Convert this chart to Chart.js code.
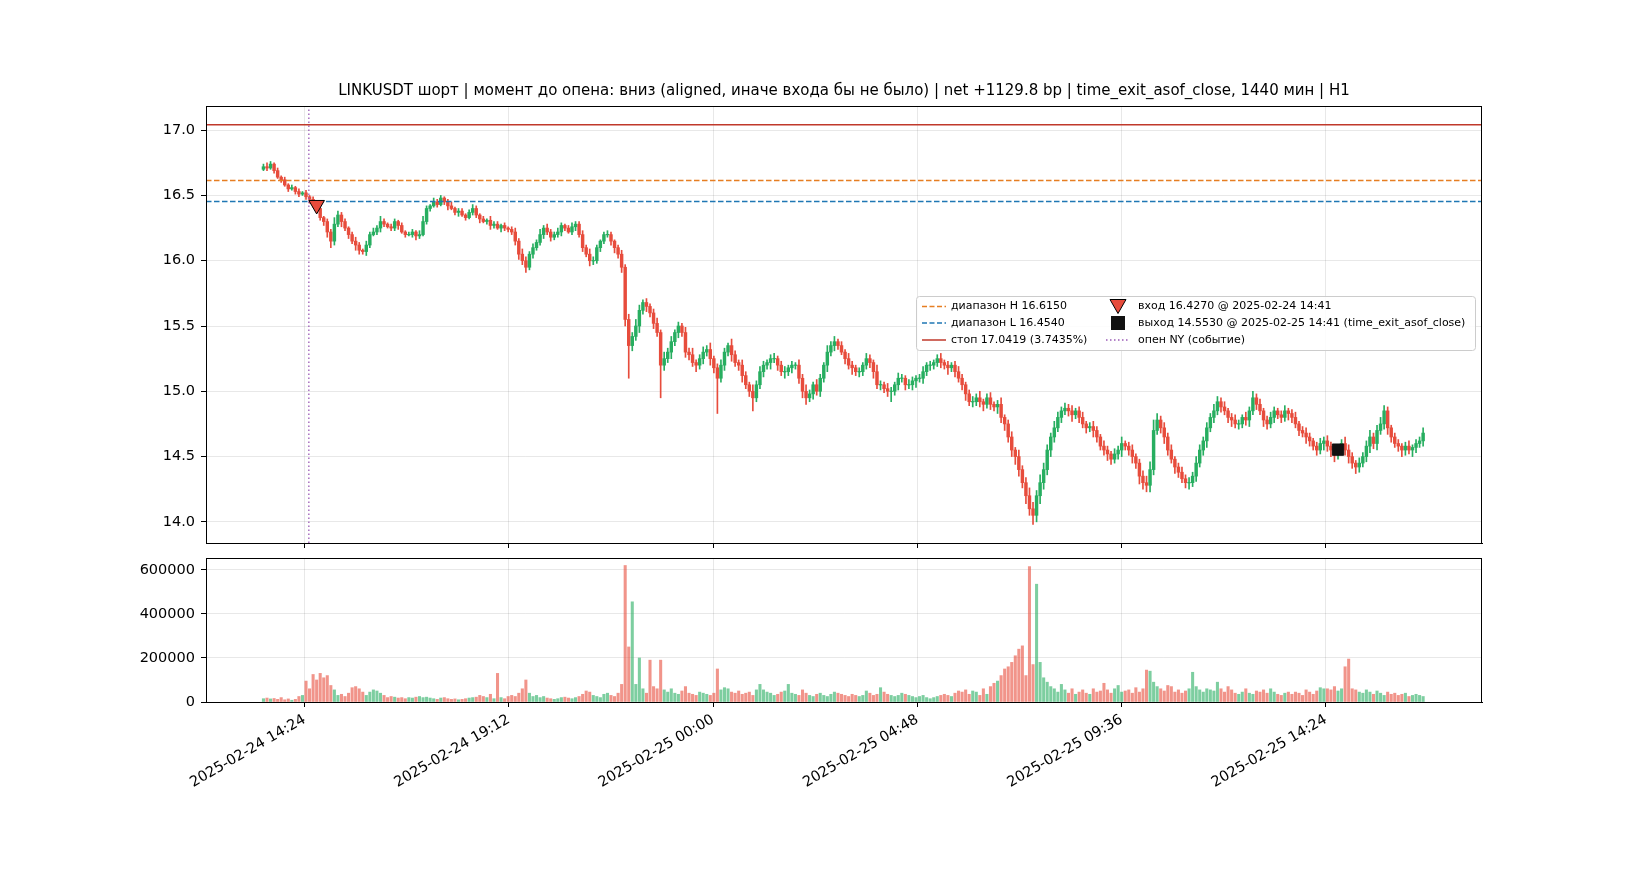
<!DOCTYPE html>
<html><head><meta charset="utf-8">
<script src="https://cdn.jsdelivr.net/npm/chart.js@4.4.1/dist/chart.umd.min.js"></script>
<style>html,body{margin:0;padding:0;background:#fff;overflow:hidden}
#wrap{position:relative;width:1650px;height:880px}
canvas{position:absolute;left:0;top:0}</style></head>
<body><div id="wrap"><canvas id="c1" width="1650" height="880"></canvas><canvas id="c2" width="1650" height="880"></canvas></div>
<script>
// time in minutes since 2025-02-24 00:00, 5-minute candles
const firstTime = 806, stepMin = 5, firstOpen = 16.70;
const closes = [
16.72,16.71,16.74,16.69,16.64,16.62,16.58,16.55,16.56,16.53,
16.51,16.52,16.49,16.47,16.43,16.40,16.33,16.30,16.22,16.15,
16.28,16.35,16.30,16.25,16.20,16.15,16.12,16.08,16.07,16.12,
16.20,16.22,16.25,16.30,16.28,16.26,16.25,16.30,16.27,16.22,
16.20,16.20,16.22,16.19,16.20,16.30,16.40,16.42,16.45,16.43,
16.48,16.45,16.42,16.40,16.37,16.38,16.35,16.33,16.37,16.40,
16.35,16.32,16.30,16.31,16.27,16.28,16.25,16.27,16.25,16.24,
16.22,16.15,16.05,16.00,15.95,16.05,16.10,16.14,16.20,16.25,
16.22,16.18,16.20,16.22,16.27,16.25,16.22,16.26,16.28,16.20,
16.10,16.05,16.00,16.00,16.10,16.15,16.20,16.20,16.15,16.10,
16.05,15.95,15.55,15.35,15.42,15.50,15.62,15.68,15.65,15.60,
15.52,15.45,15.20,15.25,15.30,15.38,15.45,15.50,15.45,15.30,
15.28,15.22,15.20,15.25,15.30,15.32,15.25,15.18,15.10,15.20,
15.30,15.35,15.28,15.22,15.20,15.12,15.05,15.00,14.95,15.05,
15.15,15.20,15.22,15.25,15.25,15.20,15.15,15.15,15.18,15.20,
15.20,15.10,15.00,14.95,14.98,15.05,15.00,15.10,15.20,15.30,
15.35,15.38,15.35,15.30,15.25,15.20,15.18,15.15,15.15,15.20,
15.25,15.22,15.15,15.05,15.05,15.02,15.00,15.00,15.05,15.10,
15.10,15.05,15.05,15.08,15.10,15.10,15.15,15.20,15.20,15.22,
15.25,15.22,15.20,15.18,15.20,15.15,15.10,15.05,14.98,14.92,
14.92,14.95,14.92,14.90,14.95,14.90,14.88,14.90,14.80,14.75,
14.65,14.55,14.50,14.40,14.30,14.20,14.10,14.05,14.20,14.30,
14.40,14.55,14.65,14.72,14.80,14.85,14.87,14.85,14.82,14.85,
14.80,14.75,14.72,14.73,14.70,14.65,14.58,14.55,14.52,14.48,
14.52,14.55,14.60,14.58,14.55,14.50,14.45,14.35,14.30,14.28,
14.40,14.70,14.78,14.72,14.65,14.55,14.48,14.42,14.38,14.33,
14.30,14.30,14.35,14.45,14.55,14.62,14.72,14.80,14.85,14.92,
14.88,14.85,14.80,14.78,14.75,14.75,14.80,14.78,14.85,14.95,
14.90,14.85,14.78,14.75,14.80,14.85,14.82,14.80,14.85,14.83,
14.80,14.75,14.70,14.68,14.65,14.62,14.58,14.55,14.60,14.62,
14.58,14.55,14.52,14.55,14.60,14.55,14.50,14.45,14.42,14.45,
14.50,14.58,14.65,14.60,14.70,14.75,14.85,14.72,14.65,14.60,
14.58,14.55,14.58,14.55,14.57,14.60,14.62,14.68];
// upper / lower wick beyond body, in hundredths
const wickUp = [
2,3,2,1,2,1,2,1,2,1, 2,1,2,1,2,3,2,1,2,2, 5,3,2,2,1,2,3,2,1,3, 2,3,2,4,2,1,2,2,1,2,
1,2,2,1,3,4,2,1,3,2, 2,1,2,3,1,2,2,1,2,3, 2,1,2,1,3,2,2,1,2,1, 2,3,2,4,3,2,3,2,4,2,
3,2,2,3,2,1,2,3,2,2, 3,2,4,3,2,1,2,3,2,1, 2,3,2,4,3,5,4,2,3,2, 3,4,2,5,3,4,2,3,2,4,
3,5,2,3,4,3,5,2,3,4, 3,2,5,3,2,4,3,2,5,3, 4,3,2,3,4,2,3,4,2,3, 2,4,3,5,3,2,4,3,2,5,
3,4,2,3,2,4,3,2,3,2, 4,3,2,5,3,2,4,3,2,4, 3,2,4,3,2,3,4,2,3,2, 3,4,2,3,2,3,4,3,2,3,
4,3,5,2,3,4,2,3,5,2, 3,4,2,5,3,4,6,5,4,6, 5,4,3,5,4,3,4,3,4,2, 3,4,2,3,4,3,2,4,3,2,
4,3,5,2,3,4,2,3,4,5, 6,8,5,3,4,3,4,2,3,4, 3,4,3,5,4,3,4,3,5,4, 3,4,2,3,4,3,2,4,3,5,
3,4,2,3,4,3,2,3,4,2, 3,4,2,3,4,3,2,3,4,3, 4,3,2,4,3,5,4,3,2,4, 3,4,5,3,4,5,4,3,2,3,
3,2,3,4,2,3,3,4];
const wickDn = [
1,2,1,2,1,2,1,2,1,2, 2,1,2,3,2,1,2,3,4,5, 3,2,4,2,3,2,4,3,2,3, 2,1,2,3,2,1,2,2,3,1,
2,1,2,3,2,1,2,2,1,2, 1,2,3,1,2,3,1,2,1,2, 2,3,1,2,3,2,1,3,2,2, 2,3,4,3,4,2,3,2,2,3,
2,3,2,2,3,2,1,2,3,2, 3,2,4,3,2,3,2,2,3,4, 3,4,5,25,4,3,5,3,4,3, 4,3,25,4,3,5,3,4,3,4,
4,3,5,3,4,3,5,4,27,3, 4,3,5,3,4,5,3,4,10,3, 3,4,3,5,3,4,3,5,3,4, 3,4,5,5,3,4,3,4,3,5,
3,4,3,2,4,3,5,3,4,3, 3,4,5,3,4,3,4,8,3,4, 3,4,3,4,5,3,4,3,4,3, 3,4,3,5,3,4,3,4,5,3,
4,3,4,5,3,4,3,5,4,5, 4,5,6,5,4,6,5,7,5,6, 5,4,5,4,3,4,3,4,5,3, 4,3,4,3,5,4,3,4,5,4,
3,4,5,3,4,5,4,6,5,5, 5,4,3,4,5,4,3,5,4,3, 4,5,3,4,3,4,5,3,4,3, 4,3,4,5,3,4,3,4,5,3,
4,3,5,4,3,4,3,4,3,5, 4,3,4,3,5,4,3,4,3,5, 4,5,6,4,3,4,5,4,5,4, 3,4,5,4,5,3,4,5,4,3,
4,5,4,3,5,4,3,4];
// volume, thousands
const volumeK = [
15,18,14,16,12,20,10,14,8,12, 25,30,95,60,125,100,130,110,120,75, 55,30,35,25,40,65,70,60,45,30,
45,55,50,40,30,20,25,22,18,20, 15,20,18,22,25,20,22,18,15,12, 18,20,15,12,14,10,12,15,18,20,
22,30,25,20,35,15,130,20,15,25, 30,25,40,60,100,40,25,30,20,25, 18,15,12,15,20,22,18,15,20,25,
35,50,45,30,25,20,35,40,30,25, 40,80,620,250,455,80,200,60,40,190, 70,60,190,55,45,60,40,35,50,70,
40,35,30,45,40,35,30,40,150,55, 65,60,45,40,50,35,40,45,30,55, 80,55,45,40,30,35,45,50,80,40,
35,30,55,40,30,25,35,40,30,25, 35,45,40,35,30,25,35,30,25,30, 50,40,30,35,65,45,35,30,25,30,
40,35,30,25,20,25,30,20,15,20, 25,30,35,30,25,40,50,45,55,35, 50,45,30,60,35,70,85,95,120,150,
160,180,210,240,255,120,615,170,535,180, 110,90,70,60,45,80,55,40,60,35, 45,55,40,35,60,45,50,85,55,40,
60,75,45,50,55,40,65,45,60,145, 140,90,70,60,50,75,70,45,55,40, 50,60,135,70,55,45,60,55,50,90,
60,45,70,55,40,35,45,60,40,35, 50,45,55,40,60,45,35,30,40,45, 35,45,40,30,55,45,35,50,65,60,
60,55,70,50,60,160,195,60,55,45, 40,55,45,35,50,40,30,45,35,40, 30,35,40,25,30,35,30,25];

const rangeH = 16.615, rangeL = 16.454, stopPx = 17.0419;
const nyOpenT = 870, entryT = 881, entryPx = 16.427, exitT = 2321, exitPx = 14.553;
const xMin = 725, xMax = 2524, xTickStart = 864, xTickStep = 288;
const priceMin = 13.838, priceMax = 17.185, volMax = 654000;
const priceTicks = [14, 14.5, 15, 15.5, 16, 16.5, 17];
const volTicks = [0, 200000, 400000, 600000];
const titleText = 'LINKUSDT шорт | момент до опена: вниз (aligned, иначе входа бы не было) | net +1129.8 bp | time_exit_asof_close, 1440 мин | H1';

const GREEN = '#27ae60', RED = '#e74c3c';
const bodies = [], wicks = [], cols = [], vols = [], vcols = [];
let prev = firstOpen;
closes.forEach((c, i) => {
  const o = prev, t = firstTime + i * stepMin;
  const top = Math.max(o, c), bot = Math.min(o, c);
  bodies.push({x: t, y: top - bot < 0.004 ? [bot - 0.002, top + 0.002] : [bot, top]});
  wicks.push({x: t, y: [bot - wickDn[i] / 100, top + wickUp[i] / 100]});
  const up = c >= o;
  cols.push(up ? GREEN : RED);
  vcols.push(up ? 'rgba(39,174,96,0.6)' : 'rgba(231,76,60,0.6)');
  vols.push({x: t, y: volumeK[i] * 1000});
  prev = c;
});

function fmtTime(m) {
  const d = 24 + Math.floor(m / 1440), r = m % 1440;
  const hh = String(Math.floor(r / 60)).padStart(2, '0'), mm = String(r % 60).padStart(2, '0');
  return '2025-02-' + d + ' ' + hh + ':' + mm;
}
const FONT = 'DejaVu Sans';
Chart.defaults.font.family = FONT;
Chart.defaults.color = '#000';
const xTicks = [];
for (let t = xTickStart; t <= xMax; t += xTickStep) xTicks.push(t);

function xScale(showLabels, height) {
  return {
    type: 'linear', min: xMin, max: xMax, offset: false,
    afterBuildTicks: s => { s.ticks = xTicks.map(v => ({value: v})); },
    afterFit: s => { s.height = height; },
    grid: {offset: false, color: 'rgba(0,0,0,0.09)', tickColor: '#000', tickLength: 5, drawTicks: true},
    border: {color: '#000'},
    ticks: {display: showLabels, font: {size: 14.5}, minRotation: 30, maxRotation: 30, padding: 4,
      callback: v => fmtTime(v)}
  };
}
const frame = {
  id: 'frame',
  afterDraw(ch) {
    const a = ch.chartArea, g = ch.ctx;
    g.save(); g.strokeStyle = '#000'; g.lineWidth = 1;
    g.strokeRect(a.left + 0.5, a.top + 0.5, a.right - a.left - 1, a.bottom - a.top);
    g.restore();
  }
};
const titlePlug = {
  id: 'ttl',
  afterDraw(ch) {
    const a = ch.chartArea, g = ch.ctx;
    g.save(); g.font = '15px ' + FONT; g.fillStyle = '#000'; g.textAlign = 'center'; g.textBaseline = 'middle';
    g.fillText(titleText, (a.left + a.right) / 2, 91); g.restore();
  }
};
const legendPlug = {
  id: 'lg',
  afterDraw(ch) {
    const g = ch.ctx; g.save();
    const bx = 916, by = 296, bw = 559, bh = 54;
    g.fillStyle = 'rgba(255,255,255,0.85)'; g.strokeStyle = '#cccccc'; g.lineWidth = 1;
    g.beginPath(); g.roundRect(bx + 0.5, by + 0.5, bw, bh, 3); g.fill(); g.stroke();
    g.font = '11px ' + FONT; g.fillStyle = '#000'; g.textBaseline = 'middle';
    const rows = [306.5, 323, 340];
    const line = (y, color, dash, w) => { g.strokeStyle = color; g.lineWidth = w; g.setLineDash(dash);
      g.beginPath(); g.moveTo(922, y); g.lineTo(946, y); g.stroke(); g.setLineDash([]); };
    line(rows[0], '#e67e22', [5, 2.5], 1.5); line(rows[1], '#1f77b4', [5, 2.5], 1.5); line(rows[2], '#c0392b', [], 1.5);
    g.fillText('диапазон H 16.6150', 951, rows[0]);
    g.fillText('диапазон L 16.4540', 951, rows[1]);
    g.fillText('стоп 17.0419 (3.7435%)', 951, rows[2]);
    g.fillStyle = RED; g.strokeStyle = '#000'; g.lineWidth = 1;
    g.beginPath(); g.moveTo(1110, rows[0] - 7); g.lineTo(1126, rows[0] - 7); g.lineTo(1118, rows[0] + 7); g.closePath(); g.fill(); g.stroke();
    g.fillStyle = '#111'; g.fillRect(1111, rows[1] - 7, 14, 14);
    g.strokeStyle = '#9b59b6'; g.setLineDash([1.5, 2.5]); g.lineWidth = 1.3;
    g.beginPath(); g.moveTo(1106, rows[2]); g.lineTo(1130, rows[2]); g.stroke(); g.setLineDash([]);
    g.fillStyle = '#000';
    g.fillText('вход 16.4270 @ 2025-02-24 14:41', 1138, rows[0]);
    g.fillText('выход 14.5530 @ 2025-02-25 14:41 (time_exit_asof_close)', 1138, rows[1]);
    g.fillText('опен NY (событие)', 1138, rows[2]);
    g.restore();
  }
};
const hline = (y, color, dash) => ({type: 'line', data: [{x: xMin, y}, {x: xMax, y}], borderColor: color,
  borderWidth: 1.5, borderDash: dash, pointRadius: 0, order: 0});

new Chart(document.getElementById('c1'), {
  type: 'bar',
  data: {datasets: [
    {type: 'bar', data: wicks, backgroundColor: c => cols[c.dataIndex], barThickness: 1, grouped: false, order: 3},
    {type: 'bar', data: bodies, backgroundColor: c => cols[c.dataIndex], barThickness: 2.8, grouped: false, order: 2},
    hline(rangeH, '#e67e22', [5.5, 2.5]),
    hline(rangeL, '#1f77b4', [5.5, 2.5]),
    hline(stopPx, '#c0392b', []),
    {type: 'line', data: [{x: nyOpenT, y: priceMin}, {x: nyOpenT, y: priceMax}], borderColor: '#9b59b6',
      borderWidth: 1.3, borderDash: [1.5, 2.5], pointRadius: 0, order: 0},
    {type: 'scatter', data: [{x: entryT, y: entryPx}], pointStyle: 'triangle', rotation: 180, pointRadius: 9,
      backgroundColor: RED, borderColor: '#000', borderWidth: 1, order: -1},
    {type: 'scatter', data: [{x: exitT, y: exitPx}], pointStyle: 'rect', pointRadius: 8,
      backgroundColor: '#111', borderColor: '#111', borderWidth: 1, order: -1}
  ]},
  options: {
    responsive: false, animation: false, devicePixelRatio: 1,
    layout: {padding: {top: 106, right: 168, left: 0, bottom: 0}},
    plugins: {legend: {display: false}, tooltip: {enabled: false}},
    scales: {
      x: xScale(false, 880 - 543),
      y: {min: priceMin, max: priceMax, afterFit: s => { s.width = 206; },
        afterBuildTicks: s => { s.ticks = priceTicks.map(v => ({value: v})); },
        grid: {color: 'rgba(0,0,0,0.09)', tickColor: '#000', tickLength: 5}, border: {color: '#000'},
        ticks: {font: {size: 14.5}, padding: 6, callback: v => v.toFixed(1)}}
    }
  },
  plugins: [frame, titlePlug, legendPlug]
});

new Chart(document.getElementById('c2'), {
  type: 'bar',
  data: {datasets: [{data: vols, backgroundColor: c => vcols[c.dataIndex], barThickness: 2.4}]},
  options: {
    responsive: false, animation: false, devicePixelRatio: 1,
    layout: {padding: {top: 558, right: 168, left: 0, bottom: 0}},
    plugins: {legend: {display: false}, tooltip: {enabled: false}},
    scales: {
      x: xScale(true, 880 - 702),
      y: {min: 0, max: volMax, afterFit: s => { s.width = 206; },
        afterBuildTicks: s => { s.ticks = volTicks.map(v => ({value: v})); },
        grid: {color: 'rgba(0,0,0,0.09)', tickColor: '#000', tickLength: 5}, border: {color: '#000'},
        ticks: {font: {size: 14.5}, padding: 6, callback: v => String(v)}}
    }
  },
  plugins: [frame]
});
</script></body></html>
